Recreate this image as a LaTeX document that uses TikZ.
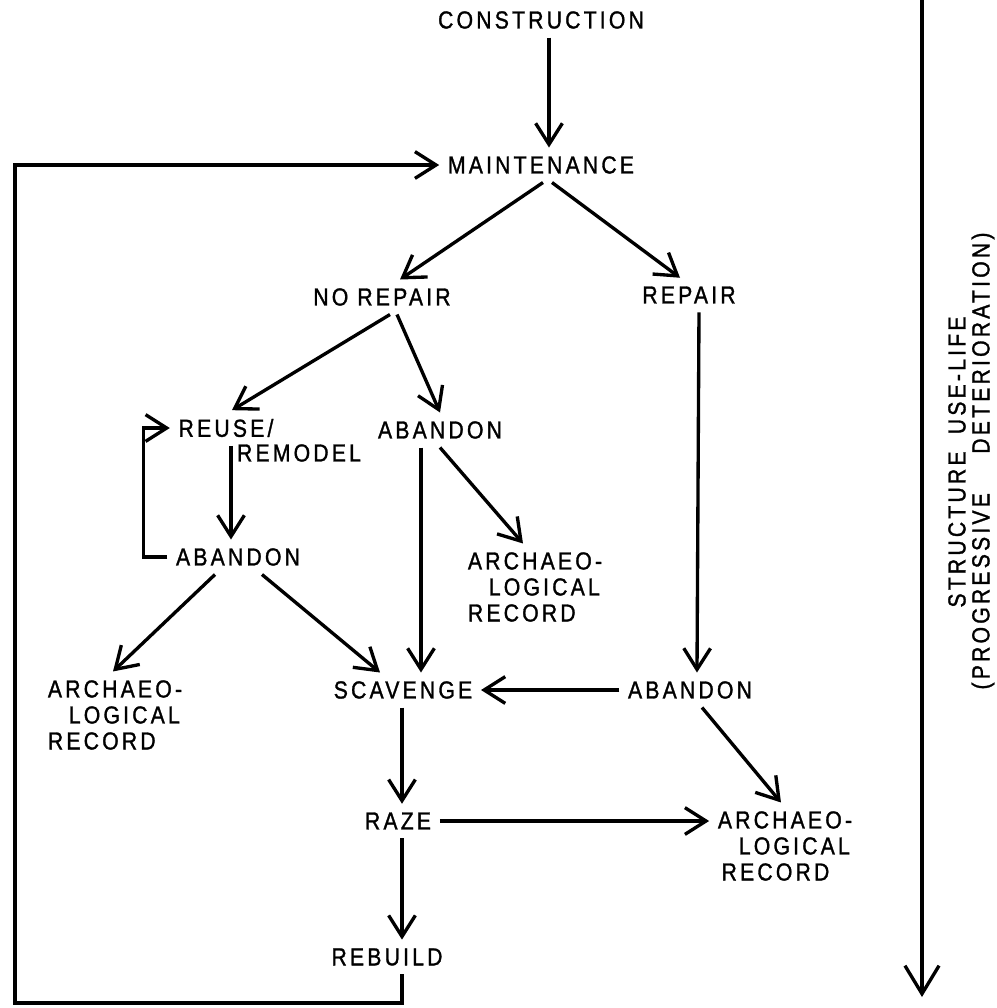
\documentclass[tikz,border=0pt]{standalone}
\usepackage{fontspec}
\setmainfont[FakeStretch=0.86,LetterSpace=13,FakeBold=1.2]{Liberation Sans}
\usetikzlibrary{arrows.meta,calc}

\begin{document}
\begin{tikzpicture}[x=0.01cm,y=-0.01cm,
  every node/.style={inner sep=0pt,outer sep=2.5pt,font=\fontsize{7pt}{7.4pt}\selectfont},
  flecha/.style={-{Straight Barb[length=6pt,width=7.6pt]},line width=0.95pt},
  registro/.style={align=left}]
  \useasboundingbox (0,0) rectangle (997,1008);

  % Nodos de arriba
  \node (cons) at (541,20) {CONSTRUCTION};
  \node (maint) at (541,165) {MAINTENANCE};
  \node (norep) at (382,297) {NO REPAIR};
  \node (rep) at (689,295) {REPAIR};

  % Nodos del medio
  \node (reuse) at (226,428) {REUSE/};
  \node (remodel) at (299,453) {REMODEL};
  \node (abanM) at (440,430) {ABANDON};
  \node (abanL) at (238,557) {ABANDON};
  \node[registro] (archM) at (535,587) {ARCHAEO-\\\hspace*{0.85em}LOGICAL\\RECORD};
  \node[registro] (archL) at (115,715) {ARCHAEO-\\\hspace*{0.85em}LOGICAL\\RECORD};
  \node (scav) at (403,690) {SCAVENGE};
  \node (abanR) at (690,690) {ABANDON};

  % Nodos de abajo
  \node (raze) at (398,821) {RAZE};
  \node[registro] (archR) at (785,846) {ARCHAEO-\\\hspace*{0.85em}LOGICAL\\\hspace*{0.15em}RECORD};
  \node (rebuild) at (387,957) {REBUILD};

  % Eje de la derecha
  \coordinate (axtop) at (922,0);
  \coordinate (axbot) at (922,997);
  \node[rotate=90] (uselife) at (957,462) {STRUCTURE\hspace{0.7em}USE-LIFE};
  \node[rotate=90] (deter) at (983,461) {(PROGRESSIVE\hspace{1.6em}DETERIORATION)};
  \coordinate (loopbl) at (15,1003);

  % Conexiones
  \draw[flecha] ($(cons.south)+(8,0)$) -- ($(maint.north)+(8,0)$);
  \draw[flecha] ($(maint.south)+(2,0)$) -- ($(norep.north)+(18,0)$);
  \draw[flecha] ($(maint.south)+(11,0)$) -- ($(rep.north)+(-9,0)$);
  \draw[flecha] ($(norep.south)+(8,0)$) -- ($(reuse.north)+(6,0)$);
  \draw[flecha] ($(norep.south)+(15,0)$) -- (abanM.north);
  \draw[flecha] ($(rep.south)+(10,0)$) -- ($(abanR.north)+(7,0)$);
  \draw[flecha] ($(reuse.south)+(5,0)$) -- ($(abanL.north)+(-7,0)$);
  \draw[flecha] (abanL.west) -- ++(-24,0) |- (reuse.west);
  \draw[flecha] ($(abanM.south)+(-19,0)$) -- ($(scav.north)+(18,0)$);
  \draw[flecha] (abanM.south) -- ($(archM.north)+(-12,0)$);
  \draw[flecha] ($(abanL.south)+(-23,0)$) -- ($(archL.north)+(-2,0)$);
  \draw[flecha] ($(abanL.south)+(24,0)$) -- ($(scav.north)+(-23,0)$);
  \draw[flecha] (abanR.west) -- (scav.east);
  \draw[flecha] ($(abanR.south)+(12,0)$) -- ($(archR.north)+(-4,0)$);
  \draw[flecha] ($(scav.south)+(-1,0)$) -- ($(raze.north)+(4,0)$);
  \draw[flecha] (raze.east) -- (raze.east -| archR.west);
  \draw[flecha] ($(raze.south)+(4,0)$) -- ($(rebuild.north)+(15,0)$);
  \draw[flecha] ($(rebuild.south)+(15,0)$) |- (loopbl) |- (maint.west);
  \draw[-{Straight Barb[length=8pt,width=9.7pt]},line width=0.95pt] (axtop) -- (axbot);
\end{tikzpicture}
\end{document}
